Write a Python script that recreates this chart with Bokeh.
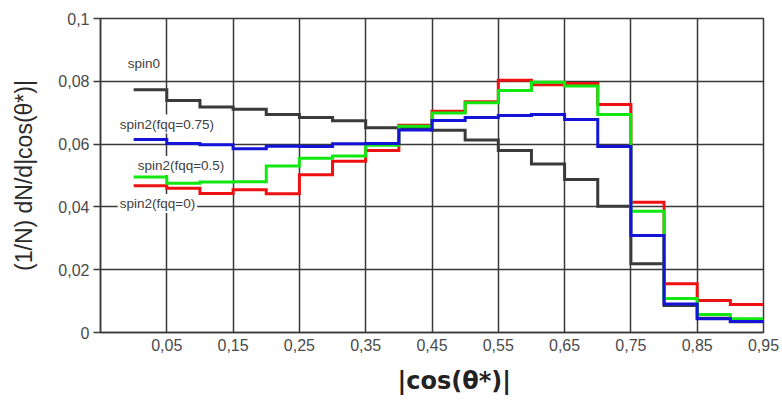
import math
from bokeh.plotting import figure
from bokeh.models import Label, FixedTicker, Range1d, Title
from bokeh.embed import file_html
from bokeh.resources import INLINE

# ---- data ----
bin_lo = [0.00, 0.05, 0.10, 0.15, 0.20, 0.25, 0.30, 0.35, 0.40, 0.45,
          0.50, 0.55, 0.60, 0.65, 0.70, 0.75, 0.80, 0.85, 0.90]
bin_width = 0.05

spin0 = [0.0773, 0.0739, 0.0718, 0.0711, 0.0694, 0.0685, 0.0674, 0.0652, 0.0650, 0.0644,
         0.0613, 0.0580, 0.0537, 0.0487, 0.0402, 0.0219, 0.0086, 0.0045, 0.0034]
spin2_fqq0 = [0.0467, 0.0459, 0.0443, 0.0455, 0.0442, 0.0502, 0.0545, 0.0580, 0.0660, 0.0705,
              0.0735, 0.0803, 0.0789, 0.0793, 0.0726, 0.0415, 0.0155, 0.0102, 0.0089]
spin2_fqq05 = [0.0495, 0.0475, 0.0479, 0.0480, 0.0530, 0.0555, 0.0562, 0.0596, 0.0657, 0.0699,
               0.0732, 0.0771, 0.0797, 0.0785, 0.0694, 0.0386, 0.0108, 0.0057, 0.0044]
spin2_fqq075 = [0.0615, 0.0602, 0.0598, 0.0585, 0.0593, 0.0592, 0.0601, 0.0602, 0.0645, 0.0675,
                0.0685, 0.0691, 0.0694, 0.0678, 0.0592, 0.0309, 0.0091, 0.0044, 0.0035]

series_names = ["spin0", "spin2(fqq=0)", "spin2(fqq=0.5)", "spin2(fqq=0.75)"]

x_ticks = [0.05, 0.15, 0.25, 0.35, 0.45, 0.55, 0.65, 0.75, 0.85, 0.95]
x_tick_labels = ["0,05", "0,15", "0,25", "0,35", "0,45", "0,55", "0,65", "0,75", "0,85", "0,95"]
y_ticks = [0.0, 0.02, 0.04, 0.06, 0.08, 0.1]
y_tick_labels = ["0", "0,02", "0,04", "0,06", "0,08", "0,1"]

x_title = "|cos(θ*)|"
y_title = "(1/N) dN/d|cos(θ*)|"

# ---- figure ----
FONT = "Liberation Sans"
GRID = "#383838"

p = figure(width=782, height=406, output_backend="svg", toolbar_location=None,
           x_range=Range1d(-0.05, 0.95), y_range=Range1d(0.0, 0.1),
           min_border_left=100, min_border_right=19, min_border_top=18,
           min_border_bottom=74)
p.background_fill_color = "white"
p.border_fill_color = "white"
p.outline_line_color = GRID
p.outline_line_width = 1.5

p.xaxis.ticker = FixedTicker(ticks=x_ticks)
p.xaxis.major_label_overrides = {t: s for t, s in zip(x_ticks, x_tick_labels)}
p.yaxis.ticker = FixedTicker(ticks=y_ticks)
p.yaxis.major_label_overrides = {t: s for t, s in zip(y_ticks, y_tick_labels)}

for ax in (p.xaxis, p.yaxis):
    ax.axis_line_color = GRID
    ax.axis_line_width = 1.5
    ax.major_tick_line_color = GRID
    ax.major_tick_line_width = 1.5
    ax.minor_tick_line_color = None
    ax.major_label_text_font = FONT
    ax.major_label_text_font_size = "16px"
    ax.major_label_text_color = "#4a4a4a"

p.xaxis.major_tick_out = 0
p.xaxis.major_tick_in = 0
p.xaxis.major_label_standoff = 6
p.yaxis.major_tick_out = 7
p.yaxis.major_tick_in = 0
p.yaxis.major_label_standoff = 4

# y axis title
p.yaxis.axis_label = y_title
p.yaxis.axis_label_text_font = FONT
p.yaxis.axis_label_text_font_size = "23px"
p.yaxis.axis_label_text_font_style = "normal"
p.yaxis.axis_label_text_color = "#2a2a2a"
p.yaxis.axis_label_standoff = 18

p.xgrid.ticker = FixedTicker(ticks=x_ticks)
p.ygrid.ticker = FixedTicker(ticks=y_ticks)
for g in (p.xgrid, p.ygrid):
    g.grid_line_color = GRID
    g.grid_line_width = 1.5

# ---- step lines ----
edges = bin_lo + [bin_lo[-1] + bin_width]
styles = [(spin0, "#3a3a3a"), (spin2_fqq0, "#ee1111"),
          (spin2_fqq05, "#11e811"), (spin2_fqq075, "#1414d8")]
for vals, col in styles:
    p.step(edges, vals + [vals[-1]], mode="after", line_color=col, line_width=3,
           line_join="miter")

# ---- inline series labels ----
label_pos = {
    "spin0": (-0.012, 0.0857),
    "spin2(fqq=0.75)": (-0.024, 0.0664),
    "spin2(fqq=0.5)": (0.003, 0.0532),
    "spin2(fqq=0)": (-0.024, 0.0411),
}
for name in series_names:
    lx, ly = label_pos[name]
    p.add_layout(Label(x=lx, y=ly, text=name, text_font=FONT, text_font_size="13.5px",
                       text_color="#404040", text_baseline="middle", text_align="left",
                       background_fill_color="white", padding=2))

# ---- x axis title ----
p.add_layout(Title(text=x_title, align="left", offset=297, standoff=23,
                   text_font="DejaVu Sans", text_font_size="24px", text_font_style="bold",
                   text_color="#222222"), "below")

open("out.html", "w").write(file_html(p, INLINE))
